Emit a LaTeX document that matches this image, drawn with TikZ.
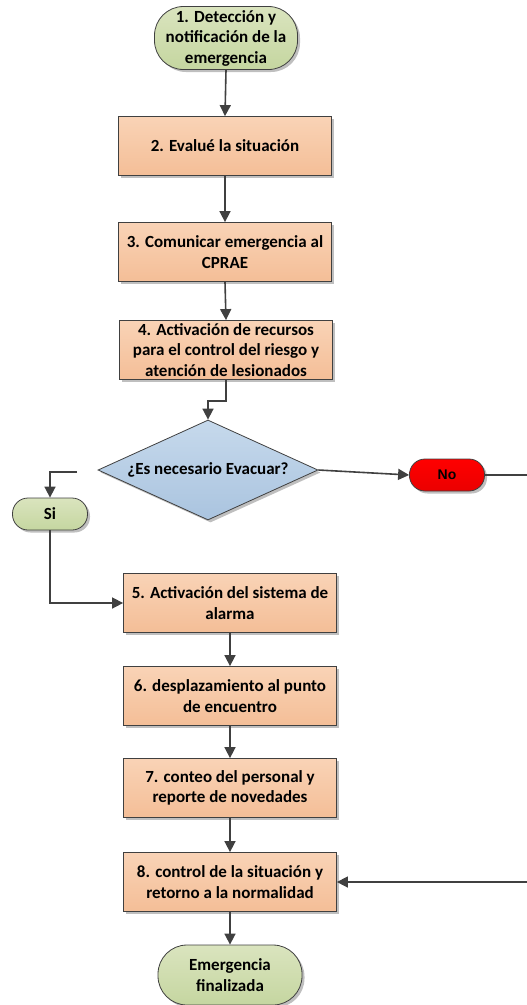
\documentclass[tikz,border=0pt]{standalone}
\usepackage{fontspec}
\setmainfont{Carlito}
\newfontfamily\arialfont{Liberation Sans}
\usetikzlibrary{shapes.geometric,arrows.meta,shadows}
\definecolor{edge}{HTML}{404040}
\definecolor{peachT}{HTML}{F9D3B6}
\definecolor{peachB}{HTML}{F4BE97}
\definecolor{greenT}{HTML}{DAE4BE}
\definecolor{greenB}{HTML}{C5D6A0}
\definecolor{blueT}{HTML}{C6D9EC}
\definecolor{blueB}{HTML}{AAC4DF}
\begin{document}
\begin{tikzpicture}[x=1pt,y=-1pt,
  every node/.style={font=\bfseries\fontsize{17}{20.5}\selectfont, align=center, inner sep=0pt, text=black},
  shad/.style={drop shadow={shadow xshift=2.5pt, shadow yshift=-2.5pt, opacity=0.25, fill=black}},
  proc/.style={draw=edge, line width=0.8pt, top color=peachT, bottom color=peachB, minimum width=213pt, minimum height=59pt, shad},
  term/.style={draw=edge, line width=0.8pt, top color=greenT, bottom color=greenB, rounded corners=29pt, minimum width=143pt, minimum height=63pt, shad},
  smallterm/.style={draw=edge, line width=0.8pt, top color=greenT, bottom color=greenB, rounded corners=15.5pt, minimum width=75pt, minimum height=32pt, shad},
  decis/.style={diamond, aspect=2.2, draw=edge, line width=0.8pt, top color=blueT, bottom color=blueB, minimum width=220pt, minimum height=100pt, shad},
  conn/.style={draw=edge, line width=1.6pt, -{Triangle[length=11pt,width=11pt]}},
  ]
\useasboundingbox (0,0) rectangle (527,1005);

\node[term] (n1) at (226,38) {1. Detección y\\notificación de la\\emergencia};
\node[proc] (b2) at (225,146) {2. Evalué la situación};
\node[proc] (b3) at (225,252) {3. Comunicar emergencia al\\CPRAE};
\node[proc] (b4) at (226,350) {4. Activación de recursos\\para el control del riesgo y\\atención de lesionados};
\node[decis] (d) at (208,470) {¿Es necesario Evacuar?};
\node[draw=edge, line width=0.8pt, top color=red, bottom color=red!92!black, rounded corners=15.5pt, minimum width=75pt, minimum height=32pt, shad, font=\arialfont\bfseries\fontsize{14}{16}\selectfont] (no) at (447,475) {No};
\node[smallterm] (si) at (50,514) {Si};
\node[proc] (b5) at (230,603) {5. Activación del sistema de\\alarma};
\node[proc] (b6) at (230,696) {6. desplazamiento al punto\\de encuentro};
\node[proc] (b7) at (230,788) {7. conteo del personal y\\reporte de novedades};
\node[proc] (b8) at (230,882) {8. control de la situación y\\retorno a la normalidad};
\node[term, minimum width=144pt, minimum height=60pt] (fin) at (230,975) {Emergencia\\finalizada};

\coordinate (sistart) at (77,472);
\coordinate (rt) at (545,475);

\draw[conn] (n1.south) -- (b2.north);
\draw[conn] (b2.south) -- (b3.north);
\draw[conn] (b3.south) -- (b4.north);
\draw[conn] (b4.south) -- ++(0,21) -| (d.north);
\draw[conn] (d.east) -- (no.west);
\draw[conn] (no.east) -- (rt) |- (b8.east);
\draw[conn] (sistart) -| (si.north);
\draw[conn] (si.south) |- (b5.west);
\draw[conn] (b5.south) -- (b6.north);
\draw[conn] (b6.south) -- (b7.north);
\draw[conn] (b7.south) -- (b8.north);
\draw[conn] (b8.south) -- (fin.north);
\end{tikzpicture}
\end{document}
